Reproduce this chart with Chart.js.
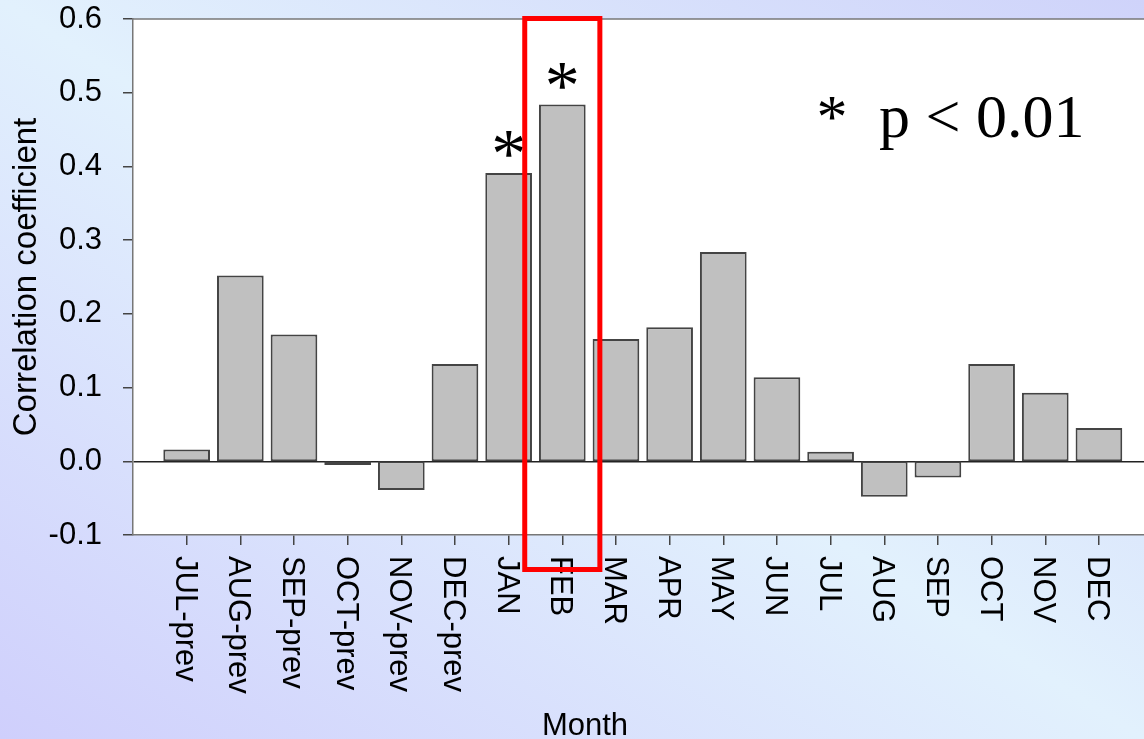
<!DOCTYPE html>
<html>
<head>
<meta charset="utf-8">
<title>Correlation coefficient by month</title>
<script src="https://cdn.jsdelivr.net/npm/chart.js@4.4.1/dist/chart.umd.min.js"></script>
<style>
  html, body { margin: 0; padding: 0; overflow: hidden; }
  body {
    width: 1144px; height: 739px;
    background: linear-gradient(to top right, #cfcffc 0%, #e2f1fd 50%, #cfd3fa 100%);
  }
  #wrap { position: relative; width: 1144px; height: 739px; }
</style>
</head>
<body>
<div id="wrap"><canvas id="chart"></canvas></div>
<script>
// Monthly correlation coefficients (previous-year months first)
const months = ['JUL-prev', 'AUG-prev', 'SEP-prev', 'OCT-prev', 'NOV-prev', 'DEC-prev',
                'JAN', 'FEB', 'MAR', 'APR', 'MAY', 'JUN',
                'JUL', 'AUG', 'SEP', 'OCT', 'NOV', 'DEC'];
const correlations = [0.016, 0.252, 0.172, -0.005, -0.039, 0.132,
                      0.391, 0.484, 0.166, 0.182, 0.284, 0.114,
                      0.013, -0.048, -0.022, 0.132, 0.093, 0.045];
// Months significant at p < 0.01
const significantMonths = ['JAN', 'FEB'];
// Month framed in red
const highlightMonth = 'FEB';
// Value axis range and tick step
const yMin = -0.1, yMax = 0.6, yStep = 0.1;
const xTitle = 'Month';
const yTitle = 'Correlation coefficient';
const noteMark = '*';
const noteText = 'p < 0.01';

const SANS = '"Liberation Sans", Arial, sans-serif';
const SERIF = '"Liberation Serif", "Times New Roman", serif';

const annotations = {
  id: 'annotations',
  beforeDraw(chart) {
    const { ctx, chartArea: a } = chart;
    ctx.save();
    ctx.fillStyle = '#ffffff';
    ctx.fillRect(a.left, a.top, a.right - a.left, a.bottom - a.top);
    ctx.restore();
  },
  afterDraw(chart) {
    const { ctx, chartArea: a } = chart;
    const xs = chart.scales.x, ys = chart.scales.y;
    ctx.save();

    // top frame line
    ctx.strokeStyle = '#777777';
    ctx.lineWidth = 1.5;
    ctx.beginPath();
    ctx.moveTo(a.left, a.top);
    ctx.lineTo(a.right, a.top);
    ctx.stroke();

    // month labels, rotated to read downward
    ctx.fillStyle = '#000000';
    ctx.font = '31px ' + SANS;
    ctx.textAlign = 'left';
    ctx.textBaseline = 'alphabetic';
    const capHalf = 31 * 0.716 / 2;
    months.forEach((m, i) => {
      const x = xs.getPixelForValue(i + 1);
      ctx.save();
      ctx.translate(x, a.bottom + 21);
      ctx.rotate(Math.PI / 2);
      ctx.fillText(m, 0, capHalf);
      ctx.restore();
    });

    // axis title
    ctx.textAlign = 'center';
    ctx.fillText(xTitle, 585, 735);

    // significance marks above bars
    ctx.font = '70px ' + SERIF;
    significantMonths.forEach(m => {
      const i = months.indexOf(m);
      const x = xs.getPixelForValue(i + 1);
      const y = ys.getPixelForValue(correlations[i]);
      ctx.fillText(noteMark, x, y + 4);
    });

    // significance note
    ctx.font = '62px ' + SERIF;
    ctx.fillText(noteMark, 832, 137);
    ctx.textAlign = 'left';
    ctx.fillText(noteText, 879, 137);

    // red frame around the highlighted month
    const h = months.indexOf(highlightMonth) + 1;
    const x0 = xs.getPixelForValue(h - 0.7);
    const x1 = xs.getPixelForValue(h + 0.7);
    ctx.strokeStyle = '#ff0000';
    ctx.lineWidth = 5;
    ctx.strokeRect(x0, a.top - 0.5, x1 - x0, a.bottom + 35 - a.top);

    ctx.restore();
  }
};

new Chart(document.getElementById('chart'), {
  type: 'bar',
  data: {
    datasets: [{
      data: correlations.map((v, i) => ({ x: i + 1, y: v })),
      backgroundColor: '#c0c0c0',
      borderColor: '#444444',
      borderWidth: 2,
      borderSkipped: false,
      categoryPercentage: 1,
      barPercentage: 0.87
    }]
  },
  options: {
    responsive: true,
    maintainAspectRatio: false,
    devicePixelRatio: 1,
    animation: false,
    layout: { padding: { top: 19, right: 0, bottom: 0, left: 0 } },
    plugins: { legend: { display: false }, tooltip: { enabled: false } },
    scales: {
      x: {
        type: 'linear',
        offset: false,
        min: 0,
        max: 18.84,
        afterBuildTicks: s => { s.ticks = months.map((m, i) => ({ value: i + 1 })); },
        afterFit: s => { s.height = 204; s.paddingLeft = 0; s.paddingRight = 0; },
        ticks: { display: false },
        grid: { offset: false, drawOnChartArea: false, drawTicks: true, tickLength: 10, tickColor: '#444444', lineWidth: 1.5 },
        border: { color: '#777777', width: 1.5 }
      },
      y: {
        min: yMin,
        max: yMax,
        afterFit: s => { s.width = 133; s.paddingTop = 0; s.paddingBottom = 0; },
        ticks: {
          stepSize: yStep,
          padding: 21,
          color: '#000000',
          font: { family: SANS, size: 31 },
          callback: v => (Math.round(v * 10) / 10).toFixed(1)
        },
        grid: {
          color: c => (c.tick && Math.abs(c.tick.value) < 1e-9) ? '#222222' : 'rgba(0,0,0,0)',
          lineWidth: 1.5,
          tickColor: '#444444',
          tickLength: 10,
          drawTicks: true
        },
        border: { color: '#777777', width: 1.5 },
        title: {
          display: true,
          text: yTitle,
          color: '#000000',
          font: { family: SANS, size: 33 },
          padding: { top: 7, bottom: 0 }
        }
      }
    }
  },
  plugins: [annotations]
});
</script>
</body>
</html>
